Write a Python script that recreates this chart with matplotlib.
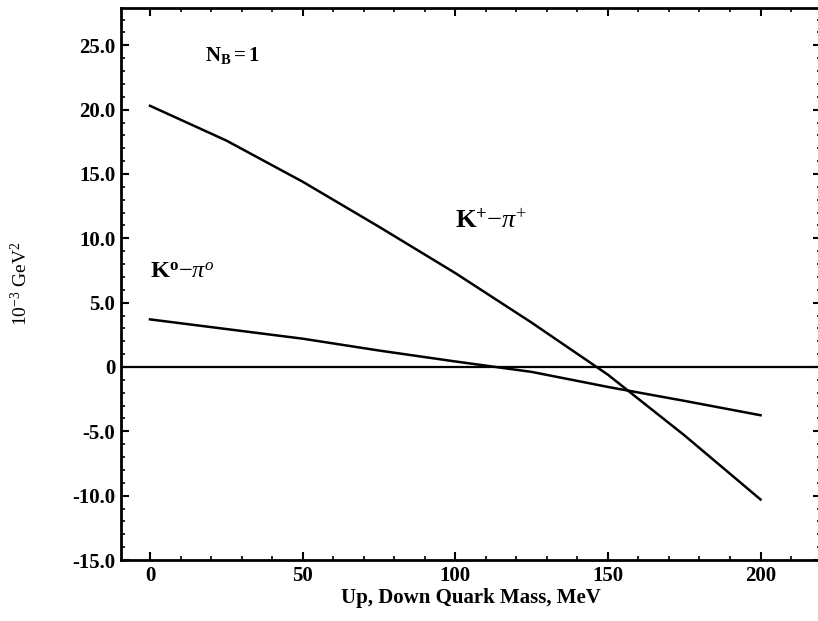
import matplotlib
matplotlib.use("Agg")
import matplotlib.pyplot as plt
from matplotlib.ticker import MultipleLocator, FuncFormatter

mass = [0, 25, 50, 75, 100, 125, 150, 175, 200]
k_plus_pi_plus = [20.3, 17.6, 14.4, 10.9, 7.3, 3.45, -0.6, -5.3, -10.3]
k_zero_pi_zero = [3.7, 2.95, 2.2, 1.28, 0.43, -0.38, -1.55, -2.63, -3.75]
yticks = [-15, -10, -5, 0, 5, 10, 15, 20, 25]
xticks = [0, 50, 100, 150, 200]

plt.rcParams['font.family'] = ['Liberation Serif', 'DejaVu Serif']
plt.rcParams['mathtext.fontset'] = 'custom'
plt.rcParams['mathtext.rm'] = 'Liberation Serif'
plt.rcParams['mathtext.it'] = 'Liberation Serif:italic'
plt.rcParams['mathtext.bf'] = 'Liberation Serif:bold'

fig = plt.figure(figsize=(8.18, 6.21), dpi=100)
ax = fig.add_axes([121/818, 1 - 560/621, 700/818, 552/621])

ax.plot(mass, k_plus_pi_plus, color='black', lw=1.8)
ax.plot(mass, k_zero_pi_zero, color='black', lw=1.8)
ax.axhline(0, color='black', lw=1.6)

ax.set_xlim(-9.5, 219.8)
ax.set_ylim(-15, 27.9)
ax.set_xticks(xticks)
ax.set_yticks(yticks)
ax.xaxis.set_minor_locator(MultipleLocator(10))
ax.yaxis.set_minor_locator(MultipleLocator(1))

def yfmt(v, pos):
    if abs(v) < 1e-9:
        return "0"
    return f"{v:.1f}"
ax.yaxis.set_major_formatter(FuncFormatter(yfmt))

ax.tick_params(which='both', direction='in', top=True, right=True, color='black')
ax.tick_params(which='major', length=6, width=1.5, labelsize=15, pad=4)
ax.tick_params(which='minor', length=3, width=1.2)
for lab in ax.get_xticklabels() + ax.get_yticklabels():
    lab.set_fontweight('bold')
for sp in ax.spines.values():
    sp.set_linewidth(2)

ax.set_xlabel("Up, Down Quark Mass, MeV", fontsize=15, fontweight='bold', labelpad=2)
ax.set_ylabel(r"10$^{-3}$ GeV$^{2}$", fontsize=14, labelpad=30)

ax.text(18, 24.2, r"$\mathbf{N_B}$$\mathbf{=1}$", fontsize=15, ha='left', va='center')
ax.text(100, 11.3, r"$\mathbf{K^{+}}$$-\mathit{\pi}^{+}$", fontsize=19, ha='left', va='center', fontweight='bold')
ax.text(0, 7.4, r"$\mathbf{K^{o}}$$-\mathit{\pi}^{o}$", fontsize=17.5, ha='left', va='center', fontweight='bold')

fig.savefig("out.png", dpi=100)
